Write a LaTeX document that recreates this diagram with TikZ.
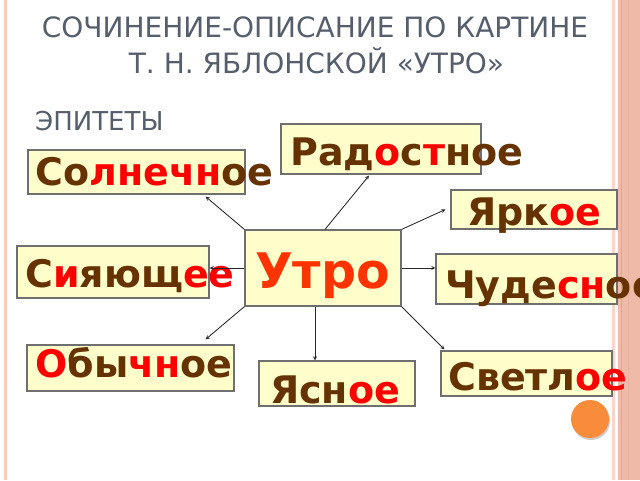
\documentclass[tikz,border=0pt]{standalone}
\usepackage{fontspec}
\setmainfont{DejaVu Sans}
\definecolor{titlegray}{HTML}{575E6B}
\definecolor{wbrown}{HTML}{663300}
\definecolor{wred}{HTML}{FF0000}
\definecolor{utrored}{HTML}{FF3300}
\definecolor{boxfill}{HTML}{FFFFCC}
\definecolor{boxline}{HTML}{6F6F6F}
\newcommand{\redpart}[1]{\textcolor{wred}{#1}}
\tikzset{wbox/.style = {draw=boxline, fill=boxfill, line width=1.2pt, inner sep=0pt},
    word/.style = {anchor=base west, inner sep=0pt, text=wbrown, font=\bfseries\fontsize{38}{40}\selectfont},
    ttl/.style  = {inner sep=0pt, text=titlegray, font=\fontsize{28}{30}\selectfont},
    arr/.style  = {->, draw=black!85, line width=0.85pt}}

\begin{document}
\begin{tikzpicture}[x=1pt, y=-1pt, >=stealth]
        \useasboundingbox (0,0) rectangle (640,480);
        % frame of the slide
        \draw[color={rgb,255:red,252;green,200;blue,184}, line width=3pt] (5.5,0) -- (5.5,480);
        \draw[color={rgb,255:red,252;green,212;blue,200}, line width=3pt] (613,0) -- (613,480);
        \fill[color={rgb,255:red,240;green,186;blue,168}] (618,0) rectangle (640,480);
        \draw[color={rgb,255:red,246;green,160;blue,120}, line width=1.5pt] (621.5,0) -- (621.5,480);
        \draw[color={rgb,255:red,236;green,176;blue,156}, line width=1pt] (628,0) -- (628,480);

        \node[ttl, anchor=base] (title1) at (315,37) {СОЧИНЕНИЕ-ОПИСАНИЕ ПО КАРТИНЕ};
        \node[ttl, anchor=base] (title2) at (316.5,73) {Т. Н. ЯБЛОНСКОЙ «УТРО»};
        \node[ttl, anchor=base west, font=\fontsize{26}{28}\selectfont] (epit) at (35,130) {ЭПИТЕТЫ};

        % boxes
        \node[wbox, minimum width=156pt, minimum height=76pt] (utro) at (323,268) {};
        \node[wbox, minimum width=200pt, minimum height=50pt] (rad) at (381,149) {};
        \node[wbox, minimum width=217pt, minimum height=44pt] (soln) at (136.5,172) {};
        \node[wbox, minimum width=166pt, minimum height=39pt] (jark) at (534,209.5) {};
        \node[wbox, minimum width=192pt, minimum height=52pt] (siyaj) at (113,272) {};
        \node[wbox, minimum width=181pt, minimum height=50pt] (chud) at (526.5,279) {};
        \node[wbox, minimum width=207pt, minimum height=46pt] (obych) at (130.5,368) {};
        \node[wbox, minimum width=156pt, minimum height=45pt] (jasn) at (337,383.5) {};
        \node[wbox, minimum width=171pt, minimum height=45pt] (svet) at (526.5,373.5) {};

        % words
        \node[word, anchor=base, text=utrored, font=\bfseries\fontsize{49}{52}\selectfont] (utro-t) at (322.5,288) {Утро};
        \node[word] (rad-t) at (290,165) {Рад\redpart{о}с\redpart{т}ное};
        \node[word] (soln-t) at (35,185) {Со\redpart{лнечн}ое};
        \node[word] (jark-t) at (467,225) {Ярк\redpart{ое}};
        \node[word] (siyaj-t) at (25,287) {С\redpart{и}яющ\redpart{ее}};
        \node[word] (chud-t) at (445,298) {Чуде\redpart{сн}ое};
        \node[word] (obych-t) at (35,377) {\redpart{О}бы\redpart{чн}ое};
        \node[word] (jasn-t) at (270,403) {Ясн\redpart{ое}};
        \node[word] (svet-t) at (448,390) {Светл\redpart{ое}};

        \draw[arr] (utro.north west) -- ([xshift=-40pt,yshift=-2pt]soln.south east);
        \draw[arr] ([xshift=2pt]utro.north) -- ([xshift=-12pt,yshift=-1pt]rad.south);
        \draw[arr] (utro.north east) -- ([xshift=-5pt]jark.west);
        \draw[arr] (utro.west) -- (siyaj.east |- utro.west);
        \draw[arr] (utro.east) -- (chud.west |- utro.east);
        \draw[arr] (utro.south west) -- ([xshift=-29pt,yshift=5pt]obych.north east);
        \draw[arr] ([xshift=-8pt]utro.south) -- ([xshift=-22pt]jasn.north);
        \draw[arr] (utro.south east) -- ([xshift=4pt,yshift=1pt]svet.north west);

        \fill[black!20] (591,421) circle (19);
        \node[circle, fill={rgb,255:red,249;green,140;blue,58}, minimum size=38pt, inner sep=0pt] (dot) at (590,419) {};
    \end{tikzpicture}
\end{document}
